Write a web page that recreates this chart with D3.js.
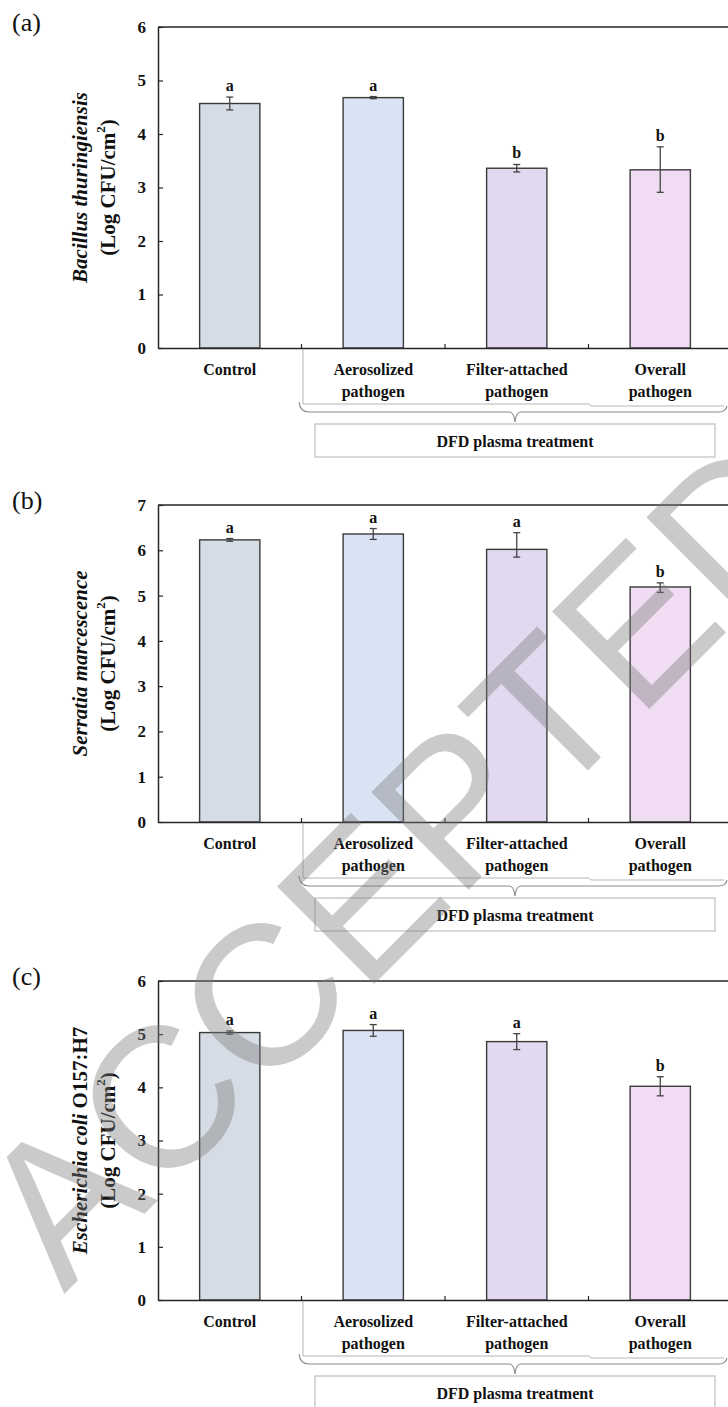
<!DOCTYPE html>
<html><head><meta charset="utf-8">
<script src="https://cdn.jsdelivr.net/npm/d3@7"></script>
<style>body{margin:0;background:#fff} svg{display:block}</style>
</head><body>
<svg id="chart" width="728" height="1407"></svg>
<script>
// ---------- data ----------
const categories = [["Control"], ["Aerosolized", "pathogen"], ["Filter-attached", "pathogen"], ["Overall", "pathogen"]];
const groupLabel = "DFD plasma treatment";
const panelLabels = ["(a)", "(b)", "(c)"];
const yMaxes = [6, 7, 6];
const yTicksA = [0, 1, 2, 3, 4, 5, 6];
const yTicksB = [0, 1, 2, 3, 4, 5, 6, 7];
const yTicksC = [0, 1, 2, 3, 4, 5, 6];

const valuesA = [4.57, 4.68, 3.36, 3.33];
const errUpA = [0.12, 0.02, 0.07, 0.43];
const errDnA = [0.12, 0.02, 0.07, 0.42];
const lettersA = ["a", "a", "b", "b"];

const valuesB = [6.23, 6.36, 6.02, 5.19];
const errUpB = [0.03, 0.12, 0.37, 0.09];
const errDnB = [0.03, 0.12, 0.17, 0.12];
const lettersB = ["a", "a", "a", "b"];

const valuesC = [5.03, 5.07, 4.86, 4.02];
const errUpC = [0.03, 0.11, 0.15, 0.18];
const errDnC = [0.03, 0.11, 0.15, 0.18];
const lettersC = ["a", "a", "a", "b"];

const yTitles = [
  [{t: "Bacillus thuringiensis", i: true}],
  [{t: "Serratia marcescence", i: true}],
  [{t: "Escherichia coli", i: true}, {t: " O157:H7", i: false}]
];
const watermark = "ACCEPTED";

const barColors = ["#d6dce5", "#dae3f3", "#e2d9f0", "#f0ddf3"];

// ---------- layout ----------
const panels = [
  {top: 27, bottom: 348, values: valuesA, up: errUpA, dn: errDnA, letters: lettersA, ticks: yTicksA},
  {top: 505, bottom: 822, values: valuesB, up: errUpB, dn: errDnB, letters: lettersB, ticks: yTicksB},
  {top: 981, bottom: 1300, values: valuesC, up: errUpC, dn: errDnC, letters: lettersC, ticks: yTicksC}
];
const left = 158, right = 732;
const serif = "'Liberation Serif','Times New Roman',serif";
const svg = d3.select("#chart");
const axisColor = "#262626";

const x = d3.scaleBand().domain(categories.map((d, i) => i)).range([left, right]).paddingInner(0.58).paddingOuter(0.29);
const xBand = d3.scaleBand().domain(categories.map((d, i) => i)).range([left, right]);

panels.forEach((p, pi) => {
  const g = svg.append("g");
  const y = d3.scaleLinear().domain([0, yMaxes[pi]]).range([p.bottom, p.top]);

  // panel label
  g.append("text").attr("x", 12).attr("y", p.top + 4)
    .attr("font-family", serif).attr("font-size", 26).attr("fill", "#111")
    .text(panelLabels[pi]);

  // bars
  g.selectAll("rect.bar").data(p.values).enter().append("rect")
    .attr("x", (d, i) => x(i)).attr("width", x.bandwidth())
    .attr("y", d => y(d)).attr("height", d => y(0) - y(d))
    .attr("fill", (d, i) => barColors[i]).attr("stroke", "#3a3a3a").attr("stroke-width", 1.4);

  // error bars
  p.values.forEach((v, i) => {
    const cx = x(i) + x.bandwidth() / 2;
    const y1 = y(v + p.up[i]), y2 = y(v - p.dn[i]);
    const eg = g.append("g").attr("stroke", "#444").attr("stroke-width", 1.3);
    eg.append("line").attr("x1", cx).attr("x2", cx).attr("y1", y1).attr("y2", y2);
    eg.append("line").attr("x1", cx - 3.5).attr("x2", cx + 3.5).attr("y1", y1).attr("y2", y1);
    eg.append("line").attr("x1", cx - 3.5).attr("x2", cx + 3.5).attr("y1", y2).attr("y2", y2);
    g.append("text").attr("x", cx).attr("y", y1 - 6).attr("text-anchor", "middle")
      .attr("font-family", serif).attr("font-weight", "bold").attr("font-size", 16).attr("fill", "#111")
      .text(p.letters[i]);
  });

  // y axis
  const yAxis = d3.axisLeft(y).tickValues(p.ticks).tickFormat(d3.format("d")).tickSizeInner(-5).tickSizeOuter(0).tickPadding(12);
  const ya = g.append("g").attr("transform", `translate(${left},0)`).call(yAxis);
  ya.select(".domain").attr("stroke", axisColor).attr("stroke-width", 1.5);
  ya.selectAll(".tick line").attr("stroke", axisColor).attr("stroke-width", 1.2);
  ya.selectAll(".tick text").attr("font-family", serif).attr("font-weight", "bold").attr("font-size", 17).attr("fill", "#111");

  // x axis (minor ticks between categories)
  const xAxis = d3.axisBottom(xBand).tickSize(0).tickFormat("");
  const xa = g.append("g").attr("transform", `translate(0,${p.bottom})`).call(xAxis);
  xa.select(".domain").attr("stroke", axisColor).attr("stroke-width", 1.5);
  [1, 2, 3].forEach(i => {
    g.append("line").attr("x1", xBand(i)).attr("x2", xBand(i)).attr("y1", p.bottom).attr("y2", p.bottom - 4)
      .attr("stroke", axisColor).attr("stroke-width", 1.2);
  });
  // top border
  g.append("line").attr("x1", left).attr("x2", right).attr("y1", p.top).attr("y2", p.top)
    .attr("stroke", axisColor).attr("stroke-width", 1.5);

  // category labels
  categories.forEach((lines, i) => {
    const cx = xBand(i) + xBand.bandwidth() / 2;
    lines.forEach((ln, li) => {
      g.append("text").attr("x", cx).attr("y", p.bottom + 21 + li * 22).attr("text-anchor", "middle")
        .attr("dominant-baseline", "central")
        .attr("font-family", serif).attr("font-weight", "bold").attr("font-size", 16).attr("fill", "#111").text(ln);
    });
  });

  // faint guide lines & brace
  const b0 = p.bottom;
  g.append("path").attr("d", `M303,${b0 + 1} V${b0 + 56} H589 L591,${b0 + 58} H724`)
    .attr("fill", "none").attr("stroke", "#b5b5b5").attr("stroke-width", 1);
  const bx1 = 299, bx2 = 726, bm = 515, by = b0 + 64, bt = b0 + 74, be = b0 + 54;
  g.append("path").attr("d",
    `M${bx1},${be} Q${bx1 + 1},${by} ${bx1 + 10},${by} H${bm - 6} Q${bm - 1},${by} ${bm},${bt} Q${bm + 1},${by} ${bm + 6},${by} H${bx2 - 8} Q${bx2},${by} ${bx2 + 1},${be + 4}`)
    .attr("fill", "none").attr("stroke", "#8a8a8a").attr("stroke-width", 1.2);

  // group box
  g.append("rect").attr("x", 315).attr("y", b0 + 76).attr("width", 400).attr("height", 33)
    .attr("fill", "#fff").attr("stroke", "#b0b0b0").attr("stroke-width", 1);
  g.append("text").attr("x", 515).attr("y", b0 + 93).attr("text-anchor", "middle").attr("dominant-baseline", "central")
    .attr("font-family", serif).attr("font-weight", "bold").attr("font-size", 16).attr("fill", "#111").text(groupLabel);

  // y title
  const cy = (p.top + p.bottom) / 2;
  const t1 = g.append("text").attr("transform", `translate(80,${cy}) rotate(-90)`).attr("text-anchor", "middle")
    .attr("dominant-baseline", "central").attr("font-family", serif).attr("font-weight", "bold")
    .attr("font-size", 21).attr("fill", "#111");
  yTitles[pi].forEach(s => t1.append("tspan").attr("font-style", s.i ? "italic" : "normal").text(s.t));
  const t2 = g.append("text").attr("transform", `translate(108,${cy}) rotate(-90)`).attr("text-anchor", "middle")
    .attr("dominant-baseline", "central").attr("font-family", serif).attr("font-weight", "bold")
    .attr("font-size", 21).attr("fill", "#111");
  t2.append("tspan").text("(Log CFU/cm");
  t2.append("tspan").attr("font-size", 13).attr("dy", -8).text("2");
  t2.append("tspan").attr("dy", 8).text(")");
});

// watermark
svg.append("text").attr("transform", "translate(400,860) rotate(-45)")
  .attr("text-anchor", "middle").attr("dominant-baseline", "central")
  .attr("font-family", "'Liberation Sans', Arial, sans-serif").attr("font-size", 200)
  .attr("fill", "#7a7a7a").attr("fill-opacity", 0.4).text(watermark);
</script>
</body></html>
